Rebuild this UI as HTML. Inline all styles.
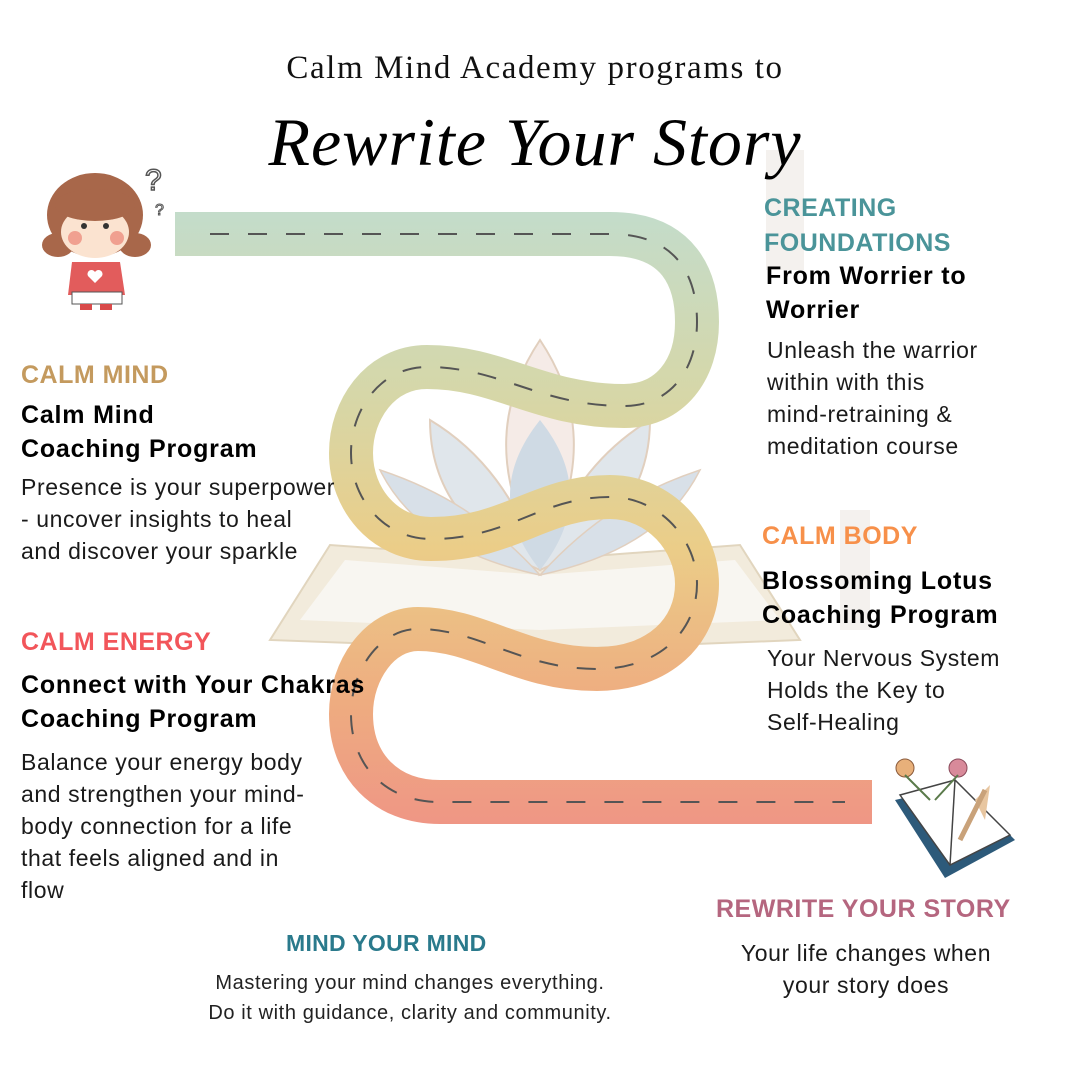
<!DOCTYPE html>
<html><head><meta charset="utf-8"><style>
html,body{margin:0;padding:0}
body{width:1080px;height:1080px;position:relative;background:#fff;overflow:hidden;font-family:"Liberation Sans","DejaVu Sans",sans-serif;color:#111}
.t{position:absolute;white-space:nowrap}
.h{font-weight:bold;font-size:25px;letter-spacing:0.5px}
.b{font-weight:bold;font-size:25px;line-height:34px;color:#000;letter-spacing:0.8px}
.p{font-size:23px;line-height:32px;color:#1a1a1a;letter-spacing:0.6px}
</style></head><body>
<svg width="1080" height="1080" style="position:absolute;left:0;top:0">
<defs>
<linearGradient id="g" x1="0" y1="210" x2="0" y2="825" gradientUnits="userSpaceOnUse">
<stop offset="0" stop-color="#c3dccb"/>
<stop offset="0.3" stop-color="#d6d7a8"/>
<stop offset="0.55" stop-color="#ebcd88"/>
<stop offset="0.8" stop-color="#eeac80"/>
<stop offset="1" stop-color="#ef9685"/>
</linearGradient>
</defs>
<g opacity="0.55">
<path d="M270,640 L330,545 L540,560 L740,545 L800,640 L540,650 Z" fill="#e9dcc0" stroke="#c9b48a" stroke-width="2"/>
<path d="M300,620 L345,560 L540,575 L735,560 L780,620 L540,630 Z" fill="#f4efe6"/>
<path d="M540,340 C500,400 490,470 540,560 C590,470 580,400 540,340Z" fill="#eddcd4" stroke="#c9a98a" stroke-width="2"/>
<path d="M430,420 C430,490 470,540 540,570 C520,500 480,450 430,420Z" fill="#c8d2dc" stroke="#c9a98a" stroke-width="2"/>
<path d="M650,420 C650,490 610,540 540,570 C560,500 600,450 650,420Z" fill="#c8d2dc" stroke="#c9a98a" stroke-width="2"/>
<path d="M540,420 C500,470 500,520 540,570 C580,520 580,470 540,420Z" fill="#a8bccf"/>
<path d="M380,470 C410,530 470,560 540,575 C490,520 440,490 380,470Z" fill="#b9c7d6" stroke="#c9a98a" stroke-width="1.5"/>
<path d="M700,470 C670,530 610,560 540,575 C590,520 640,490 700,470Z" fill="#b9c7d6" stroke="#c9a98a" stroke-width="1.5"/>
</g>
<rect x="766" y="150" width="38" height="120" fill="#f4f1ee"/>
<rect x="840" y="510" width="30" height="120" fill="#f4f1ee"/>
<path d="M175,234 H610 C680,234 697,280 697,322 C697,370 670,406 624,406 C540,406 500,367 427,367 C380,367 351,410 351,453 C351,500 385,539 431,539 C510,539 540,497 610,497 C660,497 697,540 697,584 C697,630 660,669 597,669 C520,669 480,629 418,629 C380,629 351,670 351,714 C351,765 385,802 440,802 H872" fill="none" stroke="url(#g)" stroke-width="44"/>
<path d="M210,234 H610 C680,234 697,280 697,322 C697,370 670,406 624,406 C540,406 500,367 427,367 C380,367 351,410 351,453 C351,500 385,539 431,539 C510,539 540,497 610,497 C660,497 697,540 697,584 C697,630 660,669 597,669 C520,669 480,629 418,629 C380,629 351,670 351,714 C351,765 385,802 440,802 H845" fill="none" stroke="#555" stroke-width="2" stroke-dasharray="19,19"/>
<g>
<ellipse cx="95" cy="215" rx="48" ry="42" fill="#a8674a"/>
<ellipse cx="58" cy="245" rx="16" ry="12" fill="#a8674a"/>
<ellipse cx="135" cy="245" rx="16" ry="12" fill="#a8674a"/>
<ellipse cx="95" cy="232" rx="34" ry="26" fill="#fbe3d0"/>
<ellipse cx="95" cy="205" rx="40" ry="16" fill="#a8674a"/>
<circle cx="75" cy="238" r="7" fill="#f0a090"/><circle cx="117" cy="238" r="7" fill="#f0a090"/>
<circle cx="84" cy="226" r="3" fill="#333"/><circle cx="106" cy="226" r="3" fill="#333"/>
<path d="M72,262 L120,262 L125,295 L68,295 Z" fill="#e25c5c"/>
<path d="M95,283 l-7,-7 a4,4 0 0 1 7,-4 a4,4 0 0 1 7,4 z" fill="#fff"/>
<rect x="72" y="292" width="50" height="12" fill="#fff" stroke="#555"/>
<rect x="80" y="304" width="12" height="6" fill="#d94a4a"/><rect x="100" y="304" width="12" height="6" fill="#d94a4a"/>
<text x="145" y="190" font-size="30" fill="none" stroke="#555" stroke-width="1.5" font-family="Liberation Sans">?</text>
<text x="155" y="215" font-size="16" fill="none" stroke="#555" stroke-width="1" font-family="Liberation Sans">?</text>
</g>
<g>
<path d="M895,800 L960,785 L1015,840 L945,878 Z" fill="#2d5a7a"/>
<path d="M900,795 L955,780 L1010,835 L950,865 Z" fill="#fff" stroke="#444" stroke-width="1.5"/>
<path d="M955,780 L950,865" stroke="#444" stroke-width="1.5"/>
<path d="M975,800 L990,785 L985,820 Z" fill="#e8c6a0"/>
<line x1="985" y1="790" x2="960" y2="840" stroke="#c9a27a" stroke-width="5"/>
<circle cx="905" cy="768" r="9" fill="#e8b07a" stroke="#8a5a3a"/>
<circle cx="958" cy="768" r="9" fill="#d88a9a" stroke="#8a4a5a"/>
<path d="M905,775 L930,800 M958,775 L935,800" stroke="#5a7a4a" stroke-width="2"/>
</g>
</svg>

<div class="t" style="left:0;width:1070px;top:50px;text-align:center;font-family:'Liberation Serif',serif;font-size:33px;letter-spacing:1.6px;color:#111">Calm Mind Academy programs to</div>
<div class="t" style="left:0;width:1070px;top:103px;text-align:center;font-family:'Liberation Serif',serif;font-style:italic;font-size:68px;color:#000;letter-spacing:1px">Rewrite Your Story</div>

<div class="t h" style="left:764px;top:191px;color:#4a9499;line-height:35px">CREATING<br>FOUNDATIONS</div>
<div class="t b" style="left:766px;top:259px">From Worrier to<br>Worrier</div>
<div class="t p" style="left:767px;top:334px">Unleash the warrior<br>within with this<br>mind-retraining &amp;<br>meditation course</div>

<div class="t h" style="left:21px;top:361px;color:#c49a5e">CALM MIND</div>
<div class="t b" style="left:21px;top:398px">Calm Mind<br>Coaching Program</div>
<div class="t p" style="left:21px;top:471px">Presence is your superpower<br>- uncover insights to heal<br>and discover your sparkle</div>

<div class="t h" style="left:762px;top:522px;color:#f7904a">CALM BODY</div>
<div class="t b" style="left:762px;top:564px">Blossoming Lotus<br>Coaching Program</div>
<div class="t p" style="left:767px;top:642px">Your Nervous System<br>Holds the Key to<br>Self-Healing</div>

<div class="t h" style="left:21px;top:628px;color:#f2555a">CALM ENERGY</div>
<div class="t b" style="left:21px;top:668px">Connect with Your Chakras<br>Coaching Program</div>
<div class="t p" style="left:21px;top:746px">Balance your energy body<br>and strengthen your mind-<br>body connection for a life<br>that feels aligned and in<br>flow</div>

<div class="t h" style="left:716px;top:895px;color:#b5667f">REWRITE YOUR STORY</div>
<div class="t p" style="left:716px;top:937px;width:300px;text-align:center">Your life changes when<br>your story does</div>

<div class="t" style="left:286px;top:930px;font-weight:bold;font-size:23px;letter-spacing:0.3px;color:#2a7a8c">MIND YOUR MIND</div>
<div class="t" style="left:160px;top:968px;width:500px;text-align:center;font-size:20px;letter-spacing:0.6px;line-height:30px;color:#222">Mastering your mind changes everything.<br>Do it with guidance, clarity and community.</div>
</body></html>
